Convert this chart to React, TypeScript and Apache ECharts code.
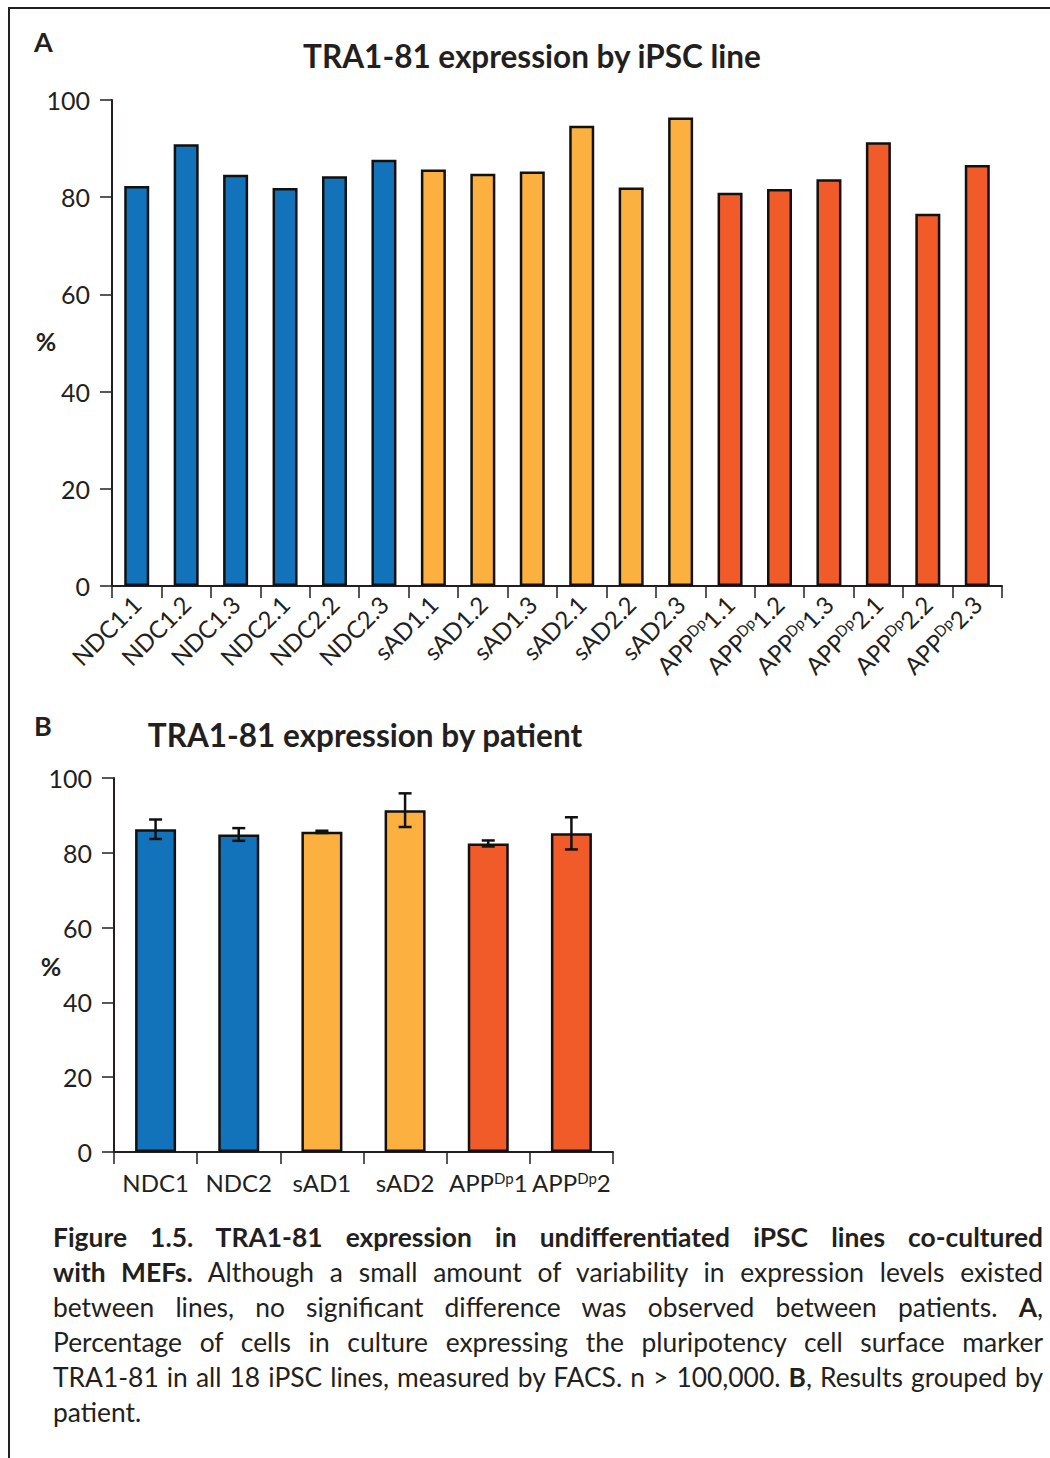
import React, { useEffect, useRef } from "react";
import * as echarts from "echarts";

const linesA = ["NDC1.1","NDC1.2","NDC1.3","NDC2.1","NDC2.2","NDC2.3","sAD1.1","sAD1.2","sAD1.3","sAD2.1","sAD2.2","sAD2.3","APP1.1","APP1.2","APP1.3","APP2.1","APP2.2","APP2.3"];
const valuesA = [82.3, 90.9, 84.6, 81.9, 84.3, 87.7, 85.7, 84.8, 85.3, 94.7, 82.0, 96.4, 80.9, 81.7, 83.7, 91.3, 76.6, 86.6];
const groupA = [0,0,0,0,0,0,1,1,1,1,1,1,2,2,2,2,2,2];

const patientsB = ["NDC1","NDC2","sAD1","sAD2","APP1","APP2"];
const meansB = [86.3, 84.9, 85.6, 91.4, 82.5, 85.2];
const errorsB = [2.6, 1.7, 0.3, 4.5, 0.8, 4.3];
const groupB = [0,0,1,1,2,2];

const yTicks = [0, 20, 40, 60, 80, 100];
const groupColors = ["#1273BA", "#FBB040", "#F15A29"];

const INK = "#231F20";
const FONT = "Lato, 'Open Sans', sans-serif";

const captionLines = [
  { bold: "Figure 1.5. TRA1-81 expression in undifferentiated iPSC lines co-cultured", rest: "", last: false },
  { bold: "with MEFs.", rest: " Although a small amount of variability in expression levels existed", last: false },
  { bold: "", rest: "between lines, no significant difference was observed between patients. ", tailBold: "A", tail: ",", last: false },
  { bold: "", rest: "Percentage of cells in culture expressing the pluripotency cell surface marker", last: false },
  { bold: "", rest: "TRA1-81 in all 18 iPSC lines, measured by FACS. n > 100,000. ", tailBold: "B", tail: ", Results grouped by", last: false },
  { bold: "", rest: "patient.", last: true },
];

function fmtLabel(v: string) {
  if (v.startsWith("APP")) return "APP{sup|Dp}" + v.slice(3);
  return v;
}

export default function App() {
  const ref = useRef<HTMLDivElement>(null);
  useEffect(() => {
    if (!ref.current) return;
    const chart = echarts.init(ref.current, null, { renderer: "svg" });
    const axisLine = { show: true, lineStyle: { color: INK, width: 2 } };
    const axisTick = { show: true, length: 12, lineStyle: { color: INK, width: 1.5 } };
    const yAxisCommon = {
      type: "value",
      min: yTicks[0],
      max: yTicks[yTicks.length - 1],
      interval: 20,
      axisLine,
      axisTick,
      splitLine: { show: false },
      axisLabel: { color: INK, fontSize: 25, fontFamily: FONT, margin: 22 },
    };
    const option: any = {
      animation: false,
      textStyle: { fontFamily: FONT },
      grid: [
        { left: 112, top: 100, width: 890, height: 486 },
        { left: 114, top: 778, width: 499, height: 374 },
      ],
      xAxis: [
        {
          type: "category",
          gridIndex: 0,
          data: linesA,
          axisLine,
          axisTick: { ...axisTick, length: 12, alignWithLabel: false },
          axisLabel: {
            interval: 0,
            rotate: 45,
            margin: 14,
            color: INK,
            fontSize: 24,
            fontFamily: FONT,
            formatter: fmtLabel,
            rich: { sup: { fontSize: 15, color: INK, fontFamily: FONT, padding: [0, 0, 10, 0] } },
          },
        },
        {
          type: "category",
          gridIndex: 1,
          data: patientsB,
          axisLine,
          axisTick: { ...axisTick, length: 12, alignWithLabel: false },
          axisLabel: {
            interval: 0,
            margin: 18,
            color: INK,
            fontSize: 24,
            fontFamily: FONT,
            formatter: fmtLabel,
            rich: { sup: { fontSize: 15, color: INK, fontFamily: FONT, padding: [0, 0, 10, 0] } },
          },
        },
      ],
      yAxis: [
        { ...yAxisCommon, gridIndex: 0 },
        { ...yAxisCommon, gridIndex: 1 },
      ],
      series: [
        {
          type: "bar",
          xAxisIndex: 0,
          yAxisIndex: 0,
          barWidth: 25,
          data: valuesA.map((v, i) => ({
            value: v,
            itemStyle: { color: groupColors[groupA[i]], borderColor: "#111", borderWidth: 2.5 },
          })),
        },
        {
          type: "bar",
          xAxisIndex: 1,
          yAxisIndex: 1,
          barWidth: 41,
          data: meansB.map((v, i) => ({
            value: v,
            itemStyle: { color: groupColors[groupB[i]], borderColor: "#111", borderWidth: 2.5 },
          })),
        },
        {
          type: "custom",
          xAxisIndex: 1,
          yAxisIndex: 1,
          z: 10,
          data: meansB.map((m, i) => [i, m, errorsB[i]]),
          renderItem: (params: any, api: any) => {
            const i = api.value(0);
            const m = api.value(1);
            const e = api.value(2);
            const top = api.coord([i, m + e]);
            const bot = api.coord([i, m - e]);
            const w = 6.5;
            const style = { stroke: "#111", lineWidth: 2.5 };
            return {
              type: "group",
              children: [
                { type: "line", shape: { x1: top[0], y1: top[1], x2: bot[0], y2: bot[1] }, style },
                { type: "line", shape: { x1: top[0] - w, y1: top[1], x2: top[0] + w, y2: top[1] }, style },
                { type: "line", shape: { x1: bot[0] - w, y1: bot[1], x2: bot[0] + w, y2: bot[1] }, style },
              ],
            };
          },
        },
      ],
      graphic: [
        { type: "text", left: 34, top: 28, style: { text: "A", font: `bold 27px ${FONT}`, fill: INK } },
        { type: "text", x: 532, y: 56, style: { text: "TRA1-81 expression by iPSC line", font: `bold 31.5px ${FONT}`, fill: INK, align: "center", verticalAlign: "middle" } },
        { type: "text", x: 46, y: 341, style: { text: "%", font: `bold 25px ${FONT}`, fill: INK, align: "center", verticalAlign: "middle" } },
        { type: "text", left: 34, top: 712, style: { text: "B", font: `bold 27px ${FONT}`, fill: INK } },
        { type: "text", x: 365, y: 735, style: { text: "TRA1-81 expression by patient", font: `bold 31.5px ${FONT}`, fill: INK, align: "center", verticalAlign: "middle" } },
        { type: "text", x: 51, y: 966, style: { text: "%", font: `bold 25px ${FONT}`, fill: INK, align: "center", verticalAlign: "middle" } },
      ],
    };
    chart.setOption(option);
    return () => chart.dispose();
  }, []);

  return (
    <div style={{ position: "absolute", left: 0, top: 0, width: 1050, height: 1458, background: "#fff", overflow: "hidden" }}>
      <div style={{ position: "absolute", left: 8, top: 7, width: 1100, height: 1500, borderTop: `2px solid ${INK}`, borderLeft: `2px solid ${INK}` }} />
      <div ref={ref} style={{ position: "absolute", left: 0, top: 0, width: 1050, height: 1210 }} />
      {captionLines.map((ln, k) => (
        <div
          key={k}
          style={{
            position: "absolute",
            left: 53,
            top: 1220 + k * 35,
            width: 990,
            height: 35,
            lineHeight: "35px",
            fontFamily: FONT,
            fontSize: 26.4,
            color: INK,
            textAlign: "justify",
            textAlignLast: ln.last ? "left" : "justify",
            whiteSpace: "nowrap",
          } as any}
        >
          {ln.bold ? <b>{ln.bold}</b> : null}
          {ln.rest}
          {(ln as any).tailBold ? <b>{(ln as any).tailBold}</b> : null}
          {(ln as any).tail || ""}
        </div>
      ))}
    </div>
  );
}
